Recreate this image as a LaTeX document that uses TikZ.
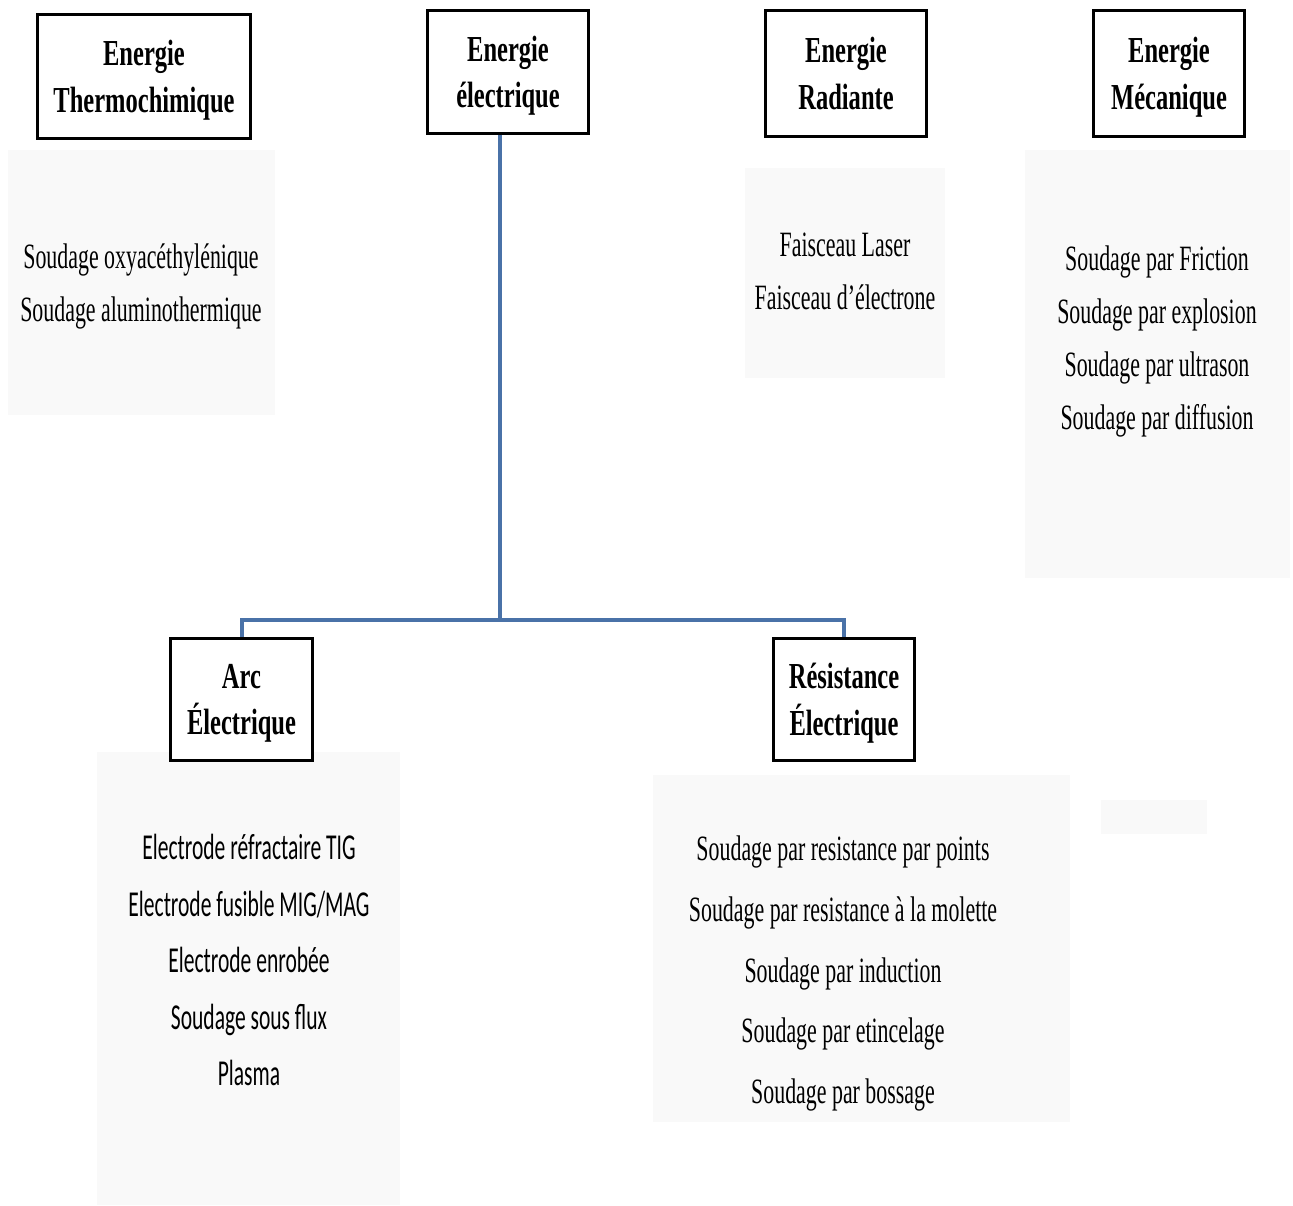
\documentclass[tikz,border=0pt]{standalone}
\usepackage{fontspec}
\usepackage{tikz}
\usetikzlibrary{positioning, calc}
\newfontfamily\headfont{Liberation Serif}[FakeStretch=0.67]
\newfontfamily\listfont{Liberation Serif}[FakeStretch=0.615]
\newfontfamily\calfont{Carlito}[FakeStretch=0.59]
\definecolor{linkblue}{HTML}{4A72A8}
\definecolor{ghostgray}{HTML}{F9F9F9}

\begin{document}
\begin{tikzpicture}[x=1pt, y=-1pt,
    energy/.style={draw, line width=3pt, fill=white, align=center, inner sep=0pt, text depth=-2pt,
        font=\headfont\bfseries\fontsize{36.6}{46.5}\selectfont},
    listtext/.style={align=center, inner sep=0pt, font=\listfont\fontsize{35.6}{53}\selectfont},
    ghost/.style={fill=ghostgray, draw=none},
    link/.style={draw=linkblue, line width=4pt}]
            \useasboundingbox (0,0) rectangle (1293,1206);
            \fill[ghost] (8,150) rectangle (275,415);
            \fill[ghost] (745,168) rectangle (945,378);
            \fill[ghost] (1025,150) rectangle (1290,578);
            \fill[ghost] (97,752) rectangle (400,1205);
            \fill[ghost] (653,775) rectangle (1070,1122);
            \fill[ghost] (1101,800) rectangle (1207,834);
            \draw (144,76.5) node[energy, minimum width=213, minimum height=124] (thermo) {Energie\\Thermochimique};
            \draw (508,72) node[energy, minimum width=161, minimum height=123] (elec) {Energie\\électrique};
            \draw (846,73.5) node[energy, minimum width=161, minimum height=126] (rad) {Energie\\Radiante};
            \draw (1169,73.5) node[energy, minimum width=151, minimum height=126] (meca) {Energie\\Mécanique};
            \draw (241.5,699.5) node[energy, minimum width=142, minimum height=122] (arc) {Arc\\Électrique};
            \draw (844,699.5) node[energy, minimum width=141, minimum height=122] (resist) {Résistance\\Électrique};
            \coordinate (fork) at (500,620);
            \path[link]
            (elec.south -| fork) -- (fork)
            (arc.north) |- (fork) -| (resist.north);
            \draw (141,286.5) node[listtext] (thermolist) {Soudage oxyacéthylénique\\Soudage aluminothermique};
            \draw (845,271) node[listtext] (radlist) {Faisceau Laser\\Faisceau d’électrone};
            \draw (1157,341.5) node[listtext] (mecalist) {Soudage par Friction\\Soudage par explosion\\Soudage par ultrason\\Soudage par diffusion};
            \draw (249,960) node[listtext, font=\calfont\fontsize{36.5}{56.5}\selectfont] (arclist) {Electrode réfractaire TIG\\Electrode fusible MIG/MAG\\Electrode enrobée\\Soudage sous flux\\Plasma};
            \draw (843,973.5) node[listtext, font=\listfont\fontsize{35.6}{60.8}\selectfont] (resistlist) {Soudage par resistance par points\\Soudage par resistance à la molette\\Soudage par induction\\Soudage par etincelage\\Soudage par bossage};
        \end{tikzpicture}
\end{document}
